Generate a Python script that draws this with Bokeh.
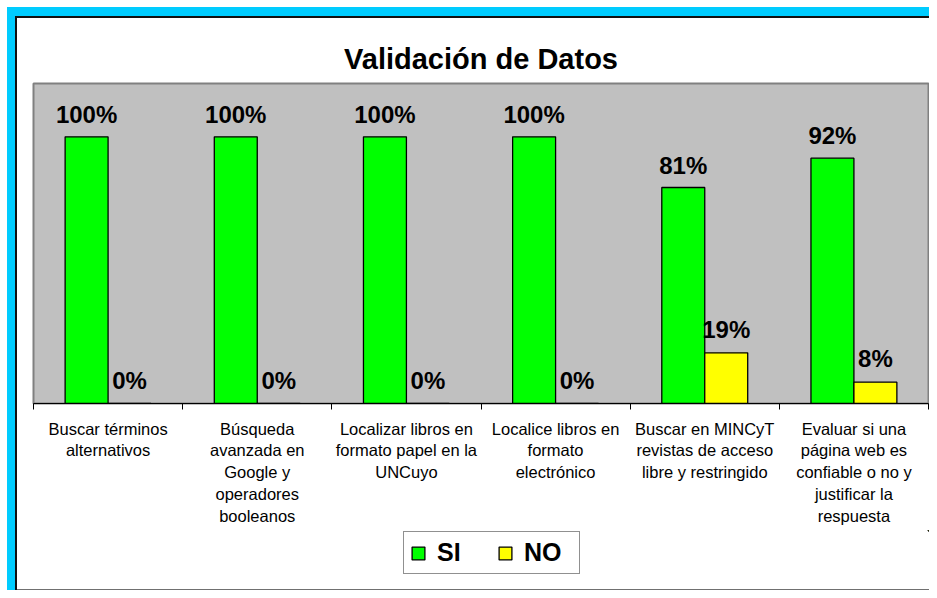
from bokeh.plotting import figure
from bokeh.layouts import column
from bokeh.models import (ColumnDataSource, FixedTicker, Legend, LegendItem,
                          Range1d, LabelSet)
from bokeh.transform import dodge
from bokeh.core.properties import value
from bokeh.embed import file_html
from bokeh.resources import INLINE

chart_title = "Validación de Datos"
categories = [
    "Buscar términos\nalternativos",
    "Búsqueda\navanzada en\nGoogle y\noperadores\nbooleanos",
    "Localizar libros en\nformato papel en la\nUNCuyo",
    "Localice libros en\nformato\nelectrónico",
    "Buscar en MINCyT\nrevistas de acceso\nlibre y restringido",
    "Evaluar si una\npágina web es\nconfiable o no y\njustificar la\nrespuesta",
]
si = [100, 100, 100, 100, 81, 92]
no = [0, 0, 0, 0, 19, 8]
series_names = ["SI", "NO"]
series_colors = ["#00FF00", "#FFFF00"]

FONT = "Liberation Sans"
W, H = 929, 590
H_MAIN = 530
H_LEG = H - H_MAIN

pos = [i + 0.5 for i in range(len(categories))]
src = ColumnDataSource(dict(
    x=pos, si=si, no=no,
    si_lbl=[f"{v}%" for v in si],
    no_lbl=[f"{v}%" for v in no],
))

p = figure(width=W, height=H_MAIN, output_backend="svg", toolbar_location=None,
           x_range=Range1d(0, len(categories)), y_range=Range1d(0, 120),
           y_axis_location=None,
           min_border_left=33, min_border_right=1, min_border_top=83,
           min_border_bottom=H_MAIN - 403)
p.background_fill_color = "#C0C0C0"
p.border_fill_alpha = 0
p.outline_line_color = "#808080"
p.outline_line_width = 2
p.xgrid.visible = False
p.ygrid.visible = False

bw = 0.288
bar_kw = dict(width=bw, line_color="black", line_width=1.3, source=src)
r_si = p.vbar(x=dodge("x", -bw / 2, range=p.x_range), top="si",
              fill_color=series_colors[0], **bar_kw)
r_no = p.vbar(x=dodge("x", bw / 2, range=p.x_range), top="no",
              fill_color=series_colors[1], **bar_kw)

for col, off, yo in (("si", -bw / 2, 14), ("no", bw / 2, 15)):
    p.add_layout(LabelSet(x=dodge("x", off, range=p.x_range), y=col,
                          text=col + "_lbl", source=src, y_offset=yo,
                          text_align="center", text_baseline="alphabetic",
                          text_font=value(FONT), text_font_style="bold",
                          text_font_size="24px", text_color="black"))

ax = p.xaxis[0]
ax.ticker = FixedTicker(ticks=pos, minor_ticks=list(range(len(categories) + 1)))
ax.major_label_overrides = {x: c for x, c in zip(pos, categories)}
ax.major_tick_out = 0
ax.major_tick_in = 0
ax.minor_tick_out = 6
ax.minor_tick_in = 0
ax.minor_tick_line_color = "black"
ax.axis_line_color = "black"
ax.major_label_text_font = FONT
ax.major_label_text_font_size = "16.5px"
ax.major_label_text_color = "black"
ax.major_label_text_line_height = 1.22
ax.major_label_standoff = 10

p.title.text = chart_title
p.title.align = "center"
p.title.text_font = FONT
p.title.text_font_style = "bold"
p.title.text_font_size = "29px"
p.title.text_color = "black"
p.title.standoff = 17

# legend strip: same two series, plotted far out of view, used only for the key
pl = figure(width=W, height=H_LEG, output_backend="svg", toolbar_location=None,
            x_axis_location=None, y_axis_location=None, min_border=0,
            x_range=Range1d(-100, -94), y_range=Range1d(-2, -1))
pl.border_fill_alpha = 0
pl.background_fill_alpha = 0
pl.outline_line_color = None
pl.xgrid.visible = False
pl.ygrid.visible = False
l_si = pl.vbar(x=dodge("x", -bw / 2, range=pl.x_range), top="si",
               fill_color=series_colors[0], **bar_kw)
l_no = pl.vbar(x=dodge("x", bw / 2, range=pl.x_range), top="no",
               fill_color=series_colors[1], **bar_kw)

legend = Legend(items=[LegendItem(label=series_names[0], renderers=[l_si]),
                       LegendItem(label=series_names[1], renderers=[l_no])],
                orientation="horizontal", location=(370, 16),
                glyph_width=16, glyph_height=16, label_standoff=11,
                label_width=49, spacing=11, padding=6, margin=0,
                label_text_font=FONT, label_text_font_style="bold",
                label_text_font_size="25px", label_text_color="black",
                border_line_color="#222222", border_line_width=1,
                background_fill_color="white", background_fill_alpha=1)
pl.add_layout(legend)

page = column(p, pl, width=W, height=H, spacing=0, styles={
    "box-shadow": ("inset 7px 7px 0 0 #ffffff, inset 15px 16px 0 0 #00CCFF, "
                   "inset 17px 18px 0 0 #111111, inset 0 -1px 0 0 #707070"),
    "background-color": "white",
})

open("out.html", "w").write(file_html(page, INLINE))
